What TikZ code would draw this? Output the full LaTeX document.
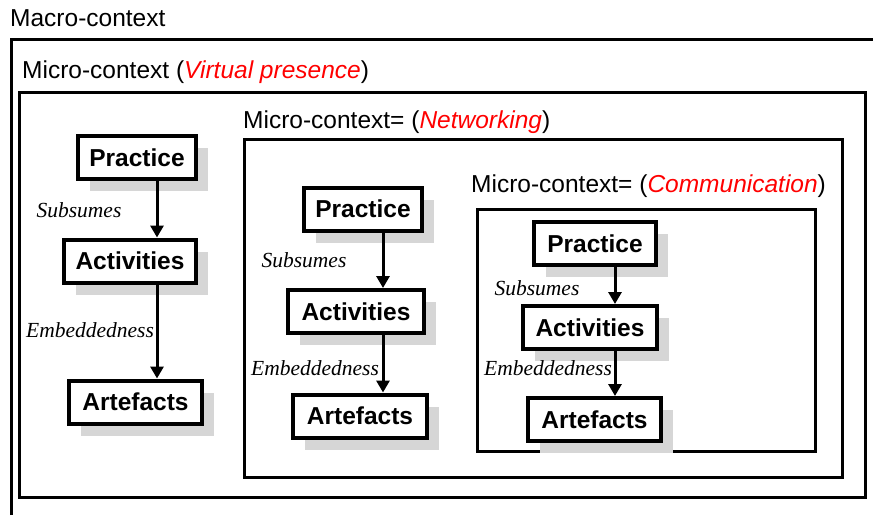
\documentclass[tikz,border=0pt]{standalone}
\usepackage{fontspec}
\setmainfont{Liberation Sans}
\newfontfamily\serifit{Liberation Serif}
\usetikzlibrary{arrows.meta,shadows}
\definecolor{lblred}{HTML}{FF0000}
\definecolor{shadowgray}{HTML}{D6D6D6}
\tikzset{
  ctxbox/.style={draw=black,line width=3pt},
  ctxlabel/.style={anchor=base west,inner sep=0pt,font=\fontsize{24.5}{29}\selectfont},
  concept/.style={draw=black,line width=4pt,fill=white,inner sep=0pt,minimum height=43pt,
    font=\fontsize{24.5}{29}\selectfont\bfseries,
    general shadow={fill=shadowgray,shadow xshift=12pt,shadow yshift=-12pt}},
  rel/.style={line width=3pt,-{Triangle[length=12pt,width=13pt]}},
  rellabel/.style={inner sep=0pt,font=\fontsize{21.5}{25}\selectfont\serifit\itshape}
}
\begin{document}
\begin{tikzpicture}[x=1pt,y=-1pt]
\useasboundingbox (0,0) rectangle (873,515);
% context frames
\draw[ctxbox] (11,515) -- (11,39) -- (873,39);
\node[ctxlabel] (lmacro) at (10,26) {Macro-context};
\draw[ctxbox] (19,92) rectangle (865,497);
\node[ctxlabel] (lvirtual) at (22,78) {Micro-context (\textcolor{lblred}{\itshape Virtual presence})};
\draw[ctxbox] (244,139) rectangle (842,477);
\node[ctxlabel] (lnet) at (243,128) {Micro-context= (\textcolor{lblred}{\itshape Networking})};
\draw[ctxbox] (477,209) rectangle (815,451);
\node[ctxlabel] (lcom) at (471,192) {Micro-context= (\textcolor{lblred}{\itshape Communication})};
% left column
\node[concept,minimum width=118pt] (p1) at (137,157.5) {Practice};
\node[concept,minimum width=132pt] (a1) at (130,261) {Activities};
\node[concept,minimum width=133pt] (r1) at (135.5,402) {Artefacts};
\coordinate (c1) at (157,0);
\draw[rel] (p1.south -| c1) -- (a1.north -| c1);
\draw[rel] (a1.south -| c1) -- (r1.north -| c1);
\node[rellabel] (s1) at (79,210) {Subsumes};
\node[rellabel] (e1) at (90,330) {Embeddedness};
% middle column
\node[concept,minimum width=118pt] (p2) at (363,209) {Practice};
\node[concept,minimum width=136pt] (a2) at (356,311.5) {Activities};
\node[concept,minimum width=134pt] (r2) at (360,416) {Artefacts};
\coordinate (c2) at (383,0);
\draw[rel] (p2.south -| c2) -- (a2.north -| c2);
\draw[rel] (a2.south -| c2) -- (r2.north -| c2);
\node[rellabel] (s2) at (304,260) {Subsumes};
\node[rellabel] (e2) at (315,368) {Embeddedness};
% right column
\node[concept,minimum width=122pt] (p3) at (595,243.5) {Practice};
\node[concept,minimum width=134pt] (a3) at (590,327.5) {Activities};
\node[concept,minimum width=133pt] (r3) at (594.5,419.5) {Artefacts};
\coordinate (c3) at (615,0);
\draw[rel] (p3.south -| c3) -- (a3.north -| c3);
\draw[rel] (a3.south -| c3) -- (r3.north -| c3);
\node[rellabel] (s3) at (537,288) {Subsumes};
\node[rellabel] (e3) at (548,368) {Embeddedness};
\end{tikzpicture}
\end{document}
